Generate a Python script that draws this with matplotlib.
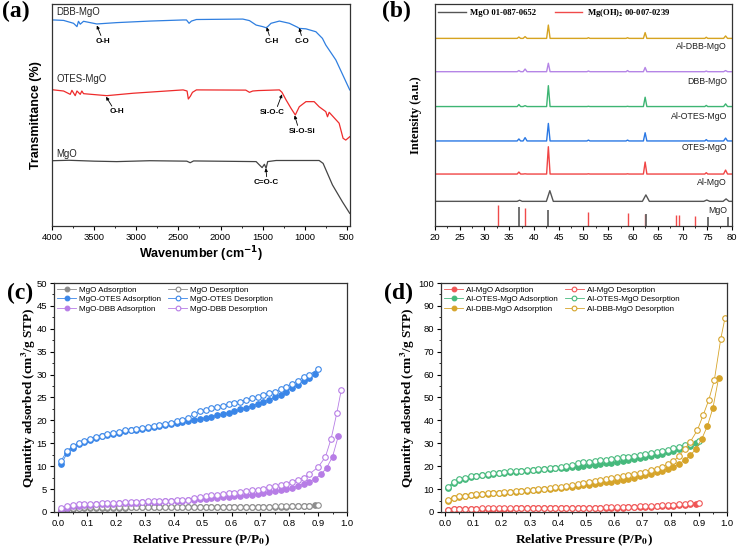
import matplotlib
matplotlib.use('Agg')
import matplotlib.pyplot as plt
from matplotlib.font_manager import FontProperties
from matplotlib.lines import Line2D
from matplotlib.ticker import MultipleLocator

plt.rcParams['font.family'] = ['Liberation Sans', 'DejaVu Sans']
plt.rcParams['axes.linewidth'] = 0.9
plt.rcParams['axes.edgecolor'] = '#333333'

# ---------------- (a) FTIR ----------------
wn_dbb = [4000, 3981, 3863, 3745, 3704, 3686, 3665, 3626, 3468, 3232, 2838, 2444, 2404, 2373, 2345, 2286,
          1735, 1656, 1577, 1499, 1459, 1440, 1400, 1301, 1183, 1085, 1065, 986, 868, 790, 750, 631, 466]
t_dbb = [92.8, 92.8, 92.6, 91.3, 89.8, 92.2, 90.9, 92.2, 91.0, 91.6, 92.3, 92.8, 92.8, 91.3, 92.3, 93.0,
         93.2, 92.5, 90.5, 89.8, 89.3, 89.8, 91.3, 92.3, 91.3, 89.5, 89.0, 88.8, 87.5, 84.5, 81.5, 74.8, 61.3]

wn_otes = [4000, 3981, 3863, 3784, 3764, 3725, 3704, 3665, 3646, 3626, 3350, 3035, 2444, 2397, 2382, 2357,
           2333, 2286, 1700, 1656, 1617, 1550, 1301, 1270, 1222, 1163, 1112, 1065, 986, 888, 829, 750, 730,
           710, 592, 545, 513, 466]
t_otes = [61.5, 61.3, 60.8, 59.3, 61.1, 58.7, 60.8, 59.3, 60.8, 59.6, 58.7, 59.8, 61.3, 60.8, 57.2, 58.5,
          60.2, 61.3, 61.2, 60.2, 60.8, 61.0, 61.3, 60.2, 56.8, 53.0, 50.0, 53.7, 56.0, 56.0, 53.7, 51.5, 49.2,
          51.2, 46.3, 39.5, 38.7, 40.2]

wn_mgo = [4000, 3800, 3500, 3232, 2838, 2400, 2360, 2320, 1577, 1538, 1506, 1479, 1459, 1440, 1340, 829,
          782, 671, 553, 466]
t_mgo = [29.4, 29.6, 29.2, 29.0, 29.4, 29.2, 28.5, 29.3, 29.0, 27.5, 26.3, 27.8, 26.0, 29.0, 29.5, 29.5,
         28.2, 18.5, 10.9, 5.7]

ftir_names = ['DBB-MgO', 'OTES-MgO', 'MgO']
ftir_name_y = [96.3, 66.0, 32.6]
# label text, text pos, arrow tail, arrow tip
ftir_bands = [
    ('O-H', (3394, 83.0), (3420, 85.8), (3468, 90.3)),
    ('C-H', (1388, 83.0), (1420, 85.8), (1452, 89.5)),
    ('C-O', (1038, 83.0), (1040, 85.8), (1065, 89.2)),
    ('O-H', (3232, 51.5), (3290, 54.0), (3358, 58.2)),
    ('Si-O-C', (1388, 51.0), (1325, 53.8), (1270, 59.3)),
    ('Si-O-Si', (1034, 42.5), (1085, 45.3), (1120, 49.8)),
    ('C=O-C', (1459, 19.5), (1452, 22.2), (1462, 26.0)),
]

# ---------------- (b) XRD ----------------
xrd_x = [20, 36.6, 36.95, 37.3, 37.8, 38.2, 38.6, 42.55, 42.9, 43.25, 50.7, 51.0, 51.3, 58.6, 58.9, 59.2,
         62.1, 62.45, 62.8, 74.5, 74.8, 75.1, 78.3, 78.7, 79.1, 80]
xrd_aldbb = [84.5, 84.5, 85.1, 84.5, 84.5, 85.3, 84.5, 84.5, 90.5, 84.5, 84.5, 84.8, 84.5, 84.5, 84.8, 84.5,
             84.5, 87.1, 84.5, 84.5, 85.0, 84.5, 84.5, 85.6, 84.5, 84.5]
xrd_dbb = [69.5, 69.5, 70.0, 69.5, 69.5, 70.7, 69.5, 69.5, 73.3, 69.5, 69.5, 69.8, 69.5, 69.5, 70.0, 69.5,
           69.5, 71.4, 69.5, 69.5, 69.8, 69.5, 69.5, 70.0, 69.5, 69.5]
xrd_alotes = [53.8, 53.8, 54.7, 53.8, 53.8, 54.2, 53.8, 53.8, 63.2, 53.8, 53.8, 53.9, 53.8, 53.8, 53.9, 53.8,
              53.8, 58.0, 53.8, 53.8, 54.3, 53.8, 53.8, 55.0, 53.8, 53.8]
xrd_otes = [38.3, 38.3, 39.2, 38.3, 38.3, 39.8, 38.3, 38.3, 46.2, 38.3, 38.3, 38.7, 38.3, 38.3, 38.7, 38.3,
            38.3, 42.0, 38.3, 38.3, 38.9, 38.3, 38.3, 39.6, 38.3, 38.3]
xrd_almgo = [23.4, 23.4, 24.3, 23.4, 23.4, 23.5, 23.4, 23.4, 35.7, 23.4, 23.4, 23.5, 23.4, 23.4, 23.5, 23.4,
             23.4, 28.8, 23.4, 23.4, 24.0, 23.4, 23.4, 25.2, 23.4, 23.4]
xrd_mgo_x = [20, 36.6, 37.1, 37.6, 42.5, 43.2, 43.9, 61.9, 62.6, 63.3, 74.3, 74.9, 75.5, 78.2, 78.8, 79.4, 80]
xrd_mgo = [11.1, 11.1, 11.6, 11.1, 11.1, 15.9, 11.1, 11.1, 14.0, 11.1, 11.1, 11.7, 11.1, 11.1, 12.2, 11.1, 11.1]

xrd_names = ['Al-DBB-MgO', 'DBB-MgO', 'Al-OTES-MgO', 'OTES-MgO', 'Al-MgO', 'MgO']
xrd_name_y = [80.8, 65.3, 49.5, 35.3, 19.5, 6.9]
xrd_colors = ['#D6A320', '#B585E6', '#3DB573', '#2A78E4', '#F04545', '#555555']

ref_mgo_pos = [36.9, 42.9, 62.6, 75.2, 79.2]
ref_mgo_h = [8.7, 7.2, 5.3, 3.9, 4.2]
ref_moh_pos = [32.8, 38.1, 51.0, 59.0, 62.4, 68.6, 69.2, 72.5]
ref_moh_h = [9.5, 8.3, 6.5, 5.7, 5.3, 5.0, 5.0, 4.7]

# ---------------- (c) / (d) isotherms ----------------
p_ads = [0.01, 0.03, 0.05, 0.07, 0.09, 0.11, 0.13, 0.15, 0.17, 0.19, 0.21, 0.23, 0.25, 0.27, 0.29,
         0.31, 0.33, 0.35, 0.37, 0.39, 0.41, 0.43, 0.45, 0.47, 0.49, 0.51, 0.53, 0.55, 0.57, 0.59,
         0.61, 0.63, 0.65, 0.67, 0.69, 0.71, 0.73, 0.75, 0.77, 0.79, 0.81, 0.83, 0.85, 0.87, 0.89]
p_des = [0.01, 0.03, 0.05, 0.07, 0.09, 0.11, 0.13, 0.15, 0.17, 0.19, 0.21, 0.23, 0.25, 0.27, 0.29,
         0.31, 0.33, 0.35, 0.37, 0.39, 0.41, 0.43, 0.45, 0.47, 0.49, 0.51, 0.53, 0.55, 0.57, 0.59,
         0.61, 0.63, 0.65, 0.67, 0.69, 0.71, 0.73, 0.75, 0.77, 0.79, 0.81, 0.83, 0.85, 0.87, 0.90]
p_ads_long = [0.01, 0.03, 0.05, 0.07, 0.09, 0.11, 0.13, 0.15, 0.17, 0.19, 0.21, 0.23, 0.25, 0.27, 0.29,
              0.31, 0.33, 0.35, 0.37, 0.39, 0.41, 0.43, 0.45, 0.47, 0.49, 0.51, 0.53, 0.55, 0.57, 0.59,
              0.61, 0.63, 0.65, 0.67, 0.69, 0.71, 0.73, 0.75, 0.77, 0.79, 0.81, 0.83, 0.85, 0.87, 0.89,
              0.91, 0.93, 0.95, 0.97]
p_dbb_des = [0.01, 0.03, 0.05, 0.07, 0.09, 0.11, 0.13, 0.15, 0.17, 0.19, 0.21, 0.23, 0.25, 0.27, 0.29,
             0.31, 0.33, 0.35, 0.37, 0.39, 0.41, 0.43, 0.45, 0.47, 0.49, 0.51, 0.53, 0.55, 0.57, 0.59,
             0.61, 0.63, 0.65, 0.67, 0.69, 0.71, 0.73, 0.75, 0.77, 0.79, 0.81, 0.83, 0.85, 0.87,
             0.90, 0.925, 0.945, 0.965, 0.98]
p_aldbb_des = [0.01, 0.03, 0.05, 0.07, 0.09, 0.11, 0.13, 0.15, 0.17, 0.19, 0.21, 0.23, 0.25, 0.27, 0.29,
               0.31, 0.33, 0.35, 0.37, 0.39, 0.41, 0.43, 0.45, 0.47, 0.49, 0.51, 0.53, 0.55, 0.57, 0.59,
               0.61, 0.63, 0.65, 0.67, 0.69, 0.71, 0.73, 0.75, 0.77, 0.79,
               0.81, 0.83, 0.85, 0.87, 0.895, 0.915, 0.935, 0.955, 0.978, 0.993]

mgo_ads = [0.3, 0.6, 0.75, 0.85, 0.9, 0.92, 0.94, 0.95, 0.95, 0.96, 0.97, 0.97, 0.98, 0.98, 0.99,
           0.99, 1.0, 1.0, 1.0, 1.0, 1.0, 1.01, 1.01, 1.02, 1.02, 1.03, 1.03, 1.04, 1.04, 1.05,
           1.05, 1.06, 1.07, 1.08, 1.09, 1.1, 1.11, 1.13, 1.15, 1.17, 1.2, 1.3, 1.33, 1.38, 1.45]
mgo_des = [0.5, 0.8, 0.9, 0.95, 1.0, 1.0, 1.0, 1.0, 1.0, 1.02, 1.02, 1.03, 1.03, 1.04, 1.04,
           1.05, 1.05, 1.05, 1.06, 1.06, 1.07, 1.07, 1.08, 1.08, 1.09, 1.09, 1.1, 1.1, 1.11, 1.11,
           1.12, 1.13, 1.14, 1.15, 1.16, 1.17, 1.18, 1.2, 1.22, 1.25, 1.28, 1.32, 1.36, 1.4, 1.5]
otes_ads = [10.5, 12.8, 14.0, 14.8, 15.3, 15.8, 16.2, 16.5, 16.8, 17.1, 17.3, 17.6, 17.8, 18.0, 18.2,
            18.4, 18.6, 18.8, 19.0, 19.3, 19.5, 19.7, 19.9, 20.1, 20.3, 20.6, 20.8, 21.1, 21.4, 21.7,
            22.0, 22.4, 22.8, 23.2, 23.6, 24.0, 24.5, 25.0, 25.6, 26.3, 27.0, 27.8, 28.6, 29.3, 30.2]
otes_des = [11.2, 13.3, 14.4, 15.1, 15.6, 16.0, 16.4, 16.7, 17.0, 17.3, 17.5, 17.8, 18.0, 18.2, 18.4,
            18.6, 18.8, 19.0, 19.2, 19.5, 19.8, 20.1, 20.5, 21.5, 22.0, 22.3, 22.6, 22.9, 23.2, 23.5,
            23.8, 24.1, 24.5, 24.8, 25.1, 25.5, 25.9, 26.3, 26.8, 27.4, 28.0, 28.7, 29.4, 30.0, 31.2]
dbb_ads = [0.3, 0.9, 1.2, 1.4, 1.5, 1.6, 1.7, 1.75, 1.8, 1.85, 1.9, 1.95, 2.0, 2.05, 2.1,
           2.15, 2.2, 2.25, 2.3, 2.35, 2.4, 2.5, 2.6, 2.7, 2.8, 2.9, 3.0, 3.1, 3.2, 3.3,
           3.4, 3.5, 3.65, 3.8, 3.95, 4.1, 4.3, 4.5, 4.75, 5.0, 5.3, 5.7, 6.1, 6.6, 7.3,
           8.2, 9.7, 12.1, 16.6]
dbb_des = [0.8, 1.3, 1.5, 1.65, 1.75, 1.8, 1.85, 1.9, 1.95, 2.0, 2.05, 2.1, 2.15, 2.2, 2.25,
           2.3, 2.35, 2.4, 2.45, 2.5, 2.55, 2.6, 2.7, 3.0, 3.3, 3.45, 3.6, 3.75, 3.9, 4.05,
           4.2, 4.35, 4.5, 4.7, 4.9, 5.1, 5.35, 5.6, 5.9, 6.2, 6.6, 7.0, 7.5, 8.3,
           9.8, 12.0, 16.0, 21.7, 26.6]

almgo_ads = [0.8, 1.1, 1.2, 1.3, 1.35, 1.4, 1.4, 1.45, 1.45, 1.5, 1.5, 1.5, 1.55, 1.55, 1.55,
             1.6, 1.6, 1.6, 1.6, 1.65, 1.65, 1.65, 1.7, 1.7, 1.7, 1.75, 1.75, 1.8, 1.8, 1.85,
             1.9, 1.95, 2.0, 2.05, 2.1, 2.2, 2.3, 2.4, 2.5, 2.6, 2.75, 2.9, 3.1, 3.35, 3.6]
almgo_des = [1.0, 1.3, 1.4, 1.45, 1.5, 1.5, 1.55, 1.55, 1.6, 1.6, 1.6, 1.65, 1.65, 1.65, 1.7,
             1.7, 1.7, 1.75, 1.75, 1.75, 1.8, 1.8, 1.8, 1.85, 1.85, 1.9, 1.9, 1.95, 2.0, 2.05,
             2.1, 2.15, 2.2, 2.3, 2.4, 2.5, 2.6, 2.7, 2.85, 3.0, 3.15, 3.3, 3.5, 3.75, 4.1]
alotes_ads = [10.3, 12.5, 13.8, 14.6, 15.2, 15.6, 16.0, 16.3, 16.6, 16.9, 17.2, 17.4, 17.6, 17.8, 18.0,
              18.2, 18.4, 18.6, 18.8, 19.0, 19.2, 19.4, 19.6, 19.8, 20.0, 20.3, 20.6, 20.9, 21.2, 21.5,
              21.8, 22.2, 22.6, 23.0, 23.4, 23.8, 24.3, 24.8, 25.4, 26.0, 26.6, 27.3, 28.1, 29.0, 30.0]
alotes_des = [11.0, 13.2, 14.3, 15.0, 15.5, 15.9, 16.3, 16.6, 16.9, 17.2, 17.5, 17.7, 17.9, 18.1, 18.3,
              18.5, 18.7, 18.9, 19.1, 19.3, 19.6, 19.9, 20.3, 21.2, 21.7, 22.0, 22.3, 22.6, 22.9, 23.2,
              23.5, 23.8, 24.2, 24.5, 24.9, 25.3, 25.7, 26.1, 26.6, 27.2, 27.8, 28.5, 29.2, 29.9, 31.0]
aldbb_ads = [5.0, 6.0, 6.5, 6.9, 7.2, 7.5, 7.7, 7.9, 8.1, 8.3, 8.5, 8.7, 8.9, 9.1, 9.3,
             9.5, 9.7, 9.9, 10.1, 10.3, 10.5, 10.8, 11.1, 11.4, 11.7, 12.0, 12.3, 12.6, 12.9, 13.3,
             13.7, 14.1, 14.5, 15.0, 15.5, 16.0, 16.6, 17.3, 18.0, 18.8, 19.8, 21.0, 22.6, 24.8, 27.6,
             31.8, 37.4, 45.4, 58.3]
aldbb_des = [5.4, 6.3, 6.8, 7.1, 7.4, 7.7, 7.9, 8.1, 8.3, 8.5, 8.7, 8.9, 9.1, 9.3, 9.5,
             9.7, 9.9, 10.1, 10.4, 10.7, 11.0, 11.3, 11.7, 12.3, 12.8, 13.2, 13.6, 14.0, 14.4, 14.8,
             15.2, 15.6, 16.1, 16.6, 17.1, 17.6, 18.2, 18.9, 19.7, 20.8,
             22.2, 24.5, 27.5, 30.7, 35.8, 42.2, 48.8, 57.6, 75.7, 84.8]

serif_bold = dict(family='Liberation Serif', fontweight='bold')


def panelLetter(fig, x, y, s):
    fig.text(x, y, s, ha='left', va='top', fontsize=17, fontweight='bold', family='Liberation Serif')


def ftirPanel(ax):
    ax.plot(wn_dbb, t_dbb, color='#2F7FE0', lw=0.9)
    ax.plot(wn_otes, t_otes, color='#EE2B2B', lw=0.9)
    ax.plot(wn_mgo, t_mgo, color='#444444', lw=0.9)
    for name, y in zip(ftir_names, ftir_name_y):
        ax.text(3945, y, name, fontsize=6.9, ha='left', va='center', color='#222222')
    for label, txt, tail, tip in ftir_bands:
        ax.annotate('', xy=tip, xytext=tail,
                    arrowprops=dict(arrowstyle='-|>', lw=0.6, color='black', mutation_scale=4.5,
                                    shrinkA=0, shrinkB=0))
        ax.text(txt[0], txt[1], label, fontsize=5.8, fontweight='bold', ha='center', va='center')
    ax.set_xlim(4000, 465)
    ax.set_ylim(0, 100)
    ax.set_xticks([4000, 3500, 3000, 2500, 2000, 1500, 1000, 500])
    ax.xaxis.set_minor_locator(MultipleLocator(250))
    ax.set_yticks([])
    ax.tick_params(axis='x', which='major', direction='out', length=3, width=0.8, labelsize=6.8, pad=2)
    ax.tick_params(axis='x', which='minor', direction='out', length=1.6, width=0.6)
    ax.set_xlabel(r'Wavenumber (cm$^{\mathbf{-1}}$)', fontsize=9, fontweight='bold',
                  math_fontfamily='dejavusans', labelpad=2)
    ax.set_ylabel('Transmittance (%)', fontsize=9, fontweight='bold')
    ax.yaxis.set_label_coords(-0.034, 0.5)


def xrdPanel(ax):
    series = [xrd_aldbb, xrd_dbb, xrd_alotes, xrd_otes, xrd_almgo]
    for ys, c in zip(series, xrd_colors[:5]):
        ax.plot(xrd_x, ys, color=c, lw=1.0)
    ax.plot(xrd_mgo_x, xrd_mgo, color=xrd_colors[5], lw=1.0)
    ax.vlines(ref_moh_pos, 0, ref_moh_h, colors='#F04A4A', lw=1.0)
    ax.vlines(ref_mgo_pos, 0, ref_mgo_h, colors='#666666', lw=1.3)
    for name, y in zip(xrd_names, xrd_name_y):
        ax.text(79.0, y, name, fontsize=6.3, ha='right', va='center', color='#222222')
    handles = [Line2D([], [], color='#555555', lw=1.0), Line2D([], [], color='#F04A4A', lw=1.0)]
    labels = ['MgO 01-087-0652', r'Mg(OH)$_{\mathbf{2}}$ 00-007-0239']
    prop = FontProperties(family='Liberation Serif', weight='bold', size=6.2, math_fontfamily='stix')
    ax.legend(handles, labels, loc='upper left', ncol=2, frameon=False, prop=prop,
              handlelength=3.2, handletextpad=0.5, columnspacing=2.2, borderaxespad=0.25,
              borderpad=0.1)
    ax.set_xlim(20, 80)
    ax.set_ylim(0, 100)
    ax.xaxis.set_major_locator(MultipleLocator(5))
    ax.xaxis.set_minor_locator(MultipleLocator(2.5))
    ax.set_yticks([])
    ax.tick_params(axis='x', which='major', direction='out', length=3, width=0.8, labelsize=6.8, pad=2)
    ax.tick_params(axis='x', which='minor', direction='out', length=1.6, width=0.6)
    ax.set_ylabel('Intensity (a.u.)', fontsize=9, **serif_bold)
    ax.yaxis.set_label_coords(-0.044, 0.5)


def isothermPanel(ax, sets, ymax, ystep, label_x):
    ads_h, des_h, ads_l, des_l = [], [], [], []
    for name, color, pa, ya, pd, yd in sets:
        h1, = ax.plot(pa, ya, color=color, lw=0.6, marker='o', ms=4.0, mfc=color, mec=color, mew=0.8)
        h2, = ax.plot(pd, yd, color=color, lw=0.6, marker='o', ms=4.0, mfc='white', mec=color, mew=0.8)
        ads_h.append(h1)
        des_h.append(h2)
        ads_l.append(name + ' Adsorption')
        des_l.append(name + ' Desorption')
    ax.legend(ads_h + des_h, ads_l + des_l, loc='upper left', ncol=2, frameon=False, fontsize=5.8,
              handlelength=2.3, handletextpad=0.4, columnspacing=0.9, labelspacing=0.22,
              borderaxespad=0.2, borderpad=0.2, markerscale=0.85)
    ax.set_xlim(-0.015, 1.0)
    ax.set_ylim(0, ymax)
    ax.xaxis.set_major_locator(MultipleLocator(0.1))
    ax.xaxis.set_minor_locator(MultipleLocator(0.05))
    ax.yaxis.set_major_locator(MultipleLocator(ystep))
    ax.yaxis.set_minor_locator(MultipleLocator(ystep / 2))
    ax.xaxis.set_major_formatter(plt.FormatStrFormatter('%.1f'))
    ax.tick_params(which='major', direction='out', length=3, width=0.8, labelsize=6.8, pad=2)
    ax.tick_params(which='minor', direction='out', length=1.6, width=0.6)
    ax.set_xlabel(r'Relative Pressure (P/P$_{\mathbf{0}}$)', fontsize=9.5, math_fontfamily='stix',
                  labelpad=3, **serif_bold)
    ax.set_ylabel(r'Quantity adsorbed (cm$^{\mathbf{3}}$/g STP)', fontsize=9.5, math_fontfamily='stix',
                  **serif_bold)
    ax.yaxis.set_label_coords(label_x, 0.5)


fig = plt.figure(figsize=(7.38, 5.52), dpi=100)
axA = fig.add_axes([0.0705, 0.5906, 0.4035, 0.4022])
axB = fig.add_axes([0.5894, 0.5906, 0.4025, 0.4022])
axC = fig.add_axes([0.0732, 0.0725, 0.3970, 0.4148])
axD = fig.add_axes([0.5976, 0.0725, 0.3875, 0.4148])

ftirPanel(axA)
xrdPanel(axB)
isothermPanel(axC, [
    ('MgO', '#8C8C8C', p_ads, mgo_ads, p_des, mgo_des),
    ('MgO-OTES', '#3A86E8', p_ads, otes_ads, p_des, otes_des),
    ('MgO-DBB', '#B77DE6', p_ads_long, dbb_ads, p_dbb_des, dbb_des),
], 50, 5, -0.055)
isothermPanel(axD, [
    ('Al-MgO', '#F05555', p_ads, almgo_ads, p_des, almgo_des),
    ('Al-OTES-MgO', '#45B97C', p_ads, alotes_ads, p_des, alotes_des),
    ('Al-DBB-MgO', '#D6A42A', p_ads_long, aldbb_ads, p_aldbb_des, aldbb_des),
], 100, 10, -0.084)

panelLetter(fig, 0.003, 0.998, '(a)')
panelLetter(fig, 0.518, 0.998, '(b)')
panelLetter(fig, 0.009, 0.487, '(c)')
panelLetter(fig, 0.520, 0.487, '(d)')

fig.savefig('out.png', dpi=100)
